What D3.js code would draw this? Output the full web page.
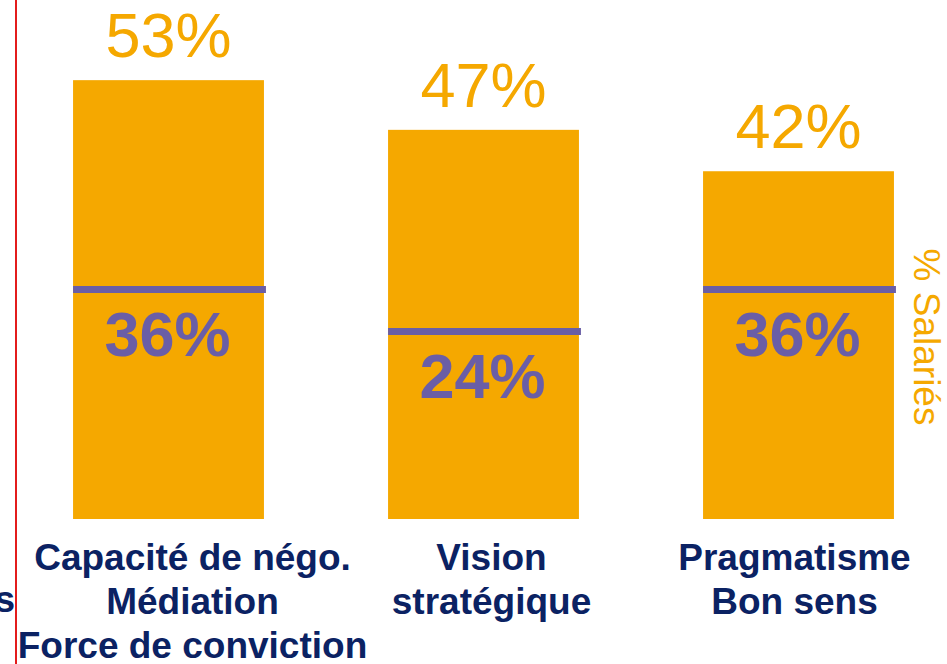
<!DOCTYPE html>
<html>
<head>
<meta charset="utf-8">
<script src="https://cdn.jsdelivr.net/npm/d3@7"></script>
<style>
  html,body{margin:0;padding:0;background:#fff;}
  svg{display:block;font-family:"Liberation Sans",Arial,sans-serif;}
</style>
</head>
<body>
<svg id="chart" width="947" height="664"></svg>
<script>
// data ----------------------------
var categories=['cap','vis','prag'];
var catLabels=[
  ['Capacité de négo.','Médiation','Force de conviction'],
  ['Vision','stratégique'],
  ['Pragmatisme','Bon sens']
];
var salaries=[53,47,42];   // orange bars, % Salariés
var marker=[36,24,36];     // purple line values

// colours
var orange='#F5A800';
var purple='#6A5EA6';
var navy='#0B2263';

// the category text boxes are not quite centred under their bars
var labelShift=[24,8,-4];

var svg=d3.select('#chart');

// scales
var x=d3.scaleBand().domain(categories).range([11,956]).paddingInner(0.394).paddingOuter(0.197);
var y=d3.scaleLinear().domain([0,100]).range([519,-309]);
var y2=d3.scaleLinear().domain([0,100]).range([415.5,65.5]);

// red guide line on the left
svg.append('line')
  .attr('x1',16).attr('x2',16).attr('y1',0).attr('y2',664)
  .attr('stroke','#e31c1c').attr('stroke-width',2);

// clipped word fragment at left edge
svg.append('text')
  .attr('x',15).attr('y',612)
  .attr('text-anchor','end')
  .attr('font-size',37).attr('font-weight','bold')
  .attr('fill',navy)
  .text('s');

var g=svg.selectAll('.cat').data(categories).enter().append('g').attr('class','cat');

// bars
g.append('rect')
  .attr('x',d=>x(d))
  .attr('y',(d,i)=>y(salaries[i]))
  .attr('width',x.bandwidth())
  .attr('height',(d,i)=>y(0)-y(salaries[i]))
  .attr('fill',orange);

// top value labels
g.append('text')
  .attr('x',d=>x(d)+x.bandwidth()/2)
  .attr('y',(d,i)=>y(salaries[i])-23)
  .attr('text-anchor','middle')
  .attr('font-size',63)
  .attr('fill',orange)
  .text((d,i)=>salaries[i]+'%');

// purple marker lines
g.append('line')
  .attr('x1',d=>x(d))
  .attr('x2',d=>x(d)+x.bandwidth()+2)
  .attr('y1',(d,i)=>y2(marker[i]))
  .attr('y2',(d,i)=>y2(marker[i]))
  .attr('stroke',purple)
  .attr('stroke-width',7);

// marker labels
g.append('text')
  .attr('x',d=>x(d)+x.bandwidth()/2-1)
  .attr('y',(d,i)=>y2(marker[i])+66)
  .attr('text-anchor','middle')
  .attr('font-size',63)
  .attr('font-weight','bold')
  .attr('fill',purple)
  .text((d,i)=>marker[i]+'%');

// category labels
g.each(function(d,i){
  var t=d3.select(this).append('text')
    .attr('text-anchor','middle')
    .attr('font-size',37)
    .attr('font-weight','bold')
    .attr('fill',navy);
  catLabels[i].forEach((line,j)=>{
    t.append('tspan')
      .attr('x',x(d)+x.bandwidth()/2+labelShift[i])
      .attr('y',570+j*44)
      .text(line);
  });
});

// right axis title
svg.append('text')
  .attr('transform','translate(914,337) rotate(90)')
  .attr('text-anchor','middle')
  .attr('font-size',37)
  .attr('fill',orange)
  .text('% Salariés');
</script>
</body>
</html>
